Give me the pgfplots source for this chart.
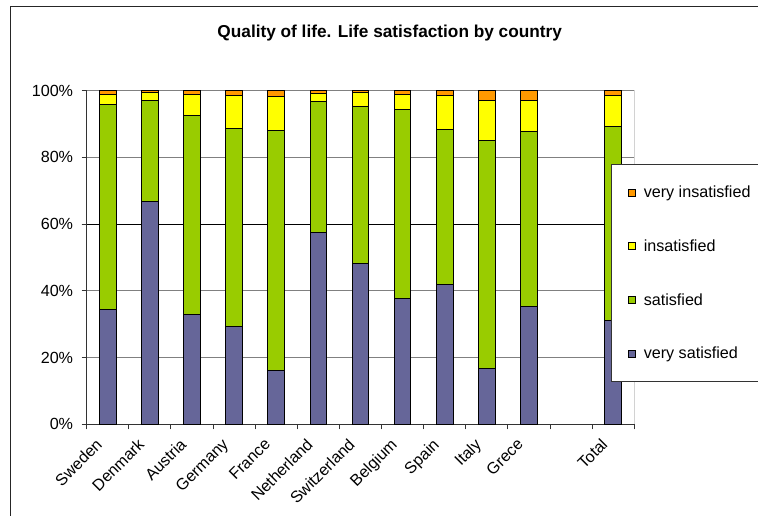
\documentclass[border=0pt]{standalone}
\usepackage{pgfplots}
\pgfplotsset{compat=1.18}
\usepackage{pgfplotstable}
\usepackage{fontspec}
\setmainfont{Liberation Sans}

\definecolor{verysat}{HTML}{666699}
\definecolor{sat}{HTML}{99CC00}
\definecolor{insat}{HTML}{FFFF00}
\definecolor{veryinsat}{HTML}{FF9900}
\definecolor{gridgray}{HTML}{808080}

% Shares of answers (%) per country; position 11 is left empty before the total
\pgfplotstableread{
idx vs   s    i    vi
0   34.3 61.5 3.2  1.0
1   66.9 30.3 2.2  0.6
2   33.0 59.5 6.5  1.0
3   29.3 59.4 9.8  1.5
4   16.1 72.1 10.0 1.8
5   57.6 39.1 2.5  0.8
6   48.3 47.0 4.2  0.5
7   37.6 56.8 4.6  1.0
8   41.8 46.5 10.3 1.4
9   16.7 68.3 12.2 2.8
10  35.3 52.6 9.3  2.8
12  31.1 58.1 9.4  1.4
}\lifesat

\begin{document}
\begin{tikzpicture}[x=1bp,y=1bp]
\useasboundingbox (0,0) rectangle (758,516);
\fill[white] (0,0) rectangle (758,516);
% chart area frame
\draw[black!85, line width=1bp] (10,-20) -- (10,509.3) -- (800,509.3);
\node[font=\bfseries\fontsize{17.3}{20}\selectfont] at (389.7,482.5)
  {Quality of life. Life satisfaction by country};
\begin{axis}[
  at={(86.7bp,91.7bp)}, anchor=south west,
  scale only axis, width=547.6bp, height=333.6bp,
  ybar stacked, bar width=16.7bp,
  xmin=-0.5, xmax=12.5, ymin=0, ymax=100,
  axis x line*=bottom, axis y line*=left,
  axis line style={-, black!80, line width=1bp},
  tick align=outside,
  major tick length=5bp, minor tick length=5bp,
  xtick={0,...,12},
  xticklabels={Sweden,Denmark,Austria,Germany,France,Netherland,Switzerland,Belgium,Spain,Italy,Grece,,Total},
  major x tick style={draw=none},
  minor xtick={-0.5,0.5,...,12.5},
  minor x tick style={black!80, line width=1bp},
  xticklabel style={xshift=-13bp, yshift=-8bp, rotate=45, anchor=north east,
    inner sep=0pt, font=\fontsize{16.2}{19}\selectfont},
  ytick={0,20,...,100},
  yticklabels={0\%,20\%,40\%,60\%,80\%,100\%},
  yticklabel style={anchor=east, inner sep=0pt, xshift=-8.4bp,
    font=\fontsize{16.2}{19}\selectfont},
  y tick style={black!80, line width=1bp},
  ymajorgrids,
  grid style={gridgray, line width=1bp},
  extra y ticks={60}, extra y tick labels={},
  extra y tick style={grid style={black, line width=1bp}},
  every axis plot/.append style={draw=black, line width=1bp},
  legend image code/.code={\draw[#1, draw=black, line width=0.8bp] (0bp,-3.5bp) rectangle (7bp,3.5bp);},
  reverse legend,
  legend cell align=left,
  legend style={at={(0.957,0.780)}, anchor=north west,
    draw=black!80, fill=white, line width=1bp,
    font=\fontsize{16.2}{19}\selectfont,
    inner xsep=17bp, inner ysep=21.5bp, row sep=40.5bp,
    nodes={inner sep=0pt},
    /tikz/every odd column/.append style={column sep=7.7bp}},
]
\addplot[fill=verysat] table[x=idx, y=vs] {\lifesat};
\addlegendentry{very satisfied}
\addplot[fill=sat] table[x=idx, y=s] {\lifesat};
\addlegendentry{satisfied}
\addplot[fill=insat] table[x=idx, y=i] {\lifesat};
\addlegendentry{insatisfied}
\addplot[fill=veryinsat] table[x=idx, y=vi] {\lifesat};
\addlegendentry{very insatisfied}
\draw[gridgray, line width=1bp] (rel axis cs:0,1) -- (rel axis cs:1,1) -- (rel axis cs:1,0);
\end{axis}
\end{tikzpicture}
\end{document}
